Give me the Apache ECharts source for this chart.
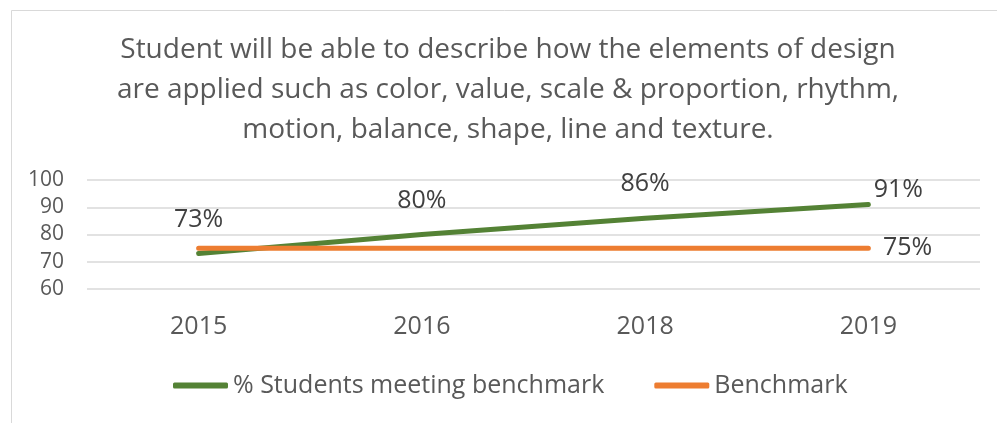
<!DOCTYPE html>
<html>
<head>
<meta charset="utf-8">
<script src="https://cdn.jsdelivr.net/npm/echarts@6/dist/echarts.min.js"></script>
<style>
  html, body { margin: 0; padding: 0; background: #fff; }
  #chart { width: 997px; height: 423px; }
</style>
</head>
<body>
<div id="chart"></div>
<script>
// data
var years = ['2015', '2016', '2018', '2019'];
var studentsMeeting = [73, 80, 86, 91];
var benchmark = [75, 75, 75, 75];
var titleLines = [
  'Student will be able to describe how the elements of design',
  'are applied such as color, value, scale & proportion, rhythm,',
  'motion, balance, shape, line and texture.'
];

var FONT = '"Open Sans", "Noto Sans", sans-serif';
var textColor = '#595959';

var chart = echarts.init(document.getElementById('chart'));

// last green label sits a little right of its point
var greenData = studentsMeeting.map(function (v, i) {
  if (i === studentsMeeting.length - 1) {
    return { value: v, label: { offset: [30, 19] } };
  }
  return v;
});

// only the last benchmark point is labelled
var orangeData = benchmark.map(function (v, i) {
  if (i === benchmark.length - 1) {
    return { value: v, label: { show: true, position: 'right', distance: 14 } };
  }
  return v;
});

var option = {
  animation: false,
  backgroundColor: '#fff',
  graphic: [
    {
      type: 'polyline',
      shape: { points: [[11.5, 430], [11.5, 10.5], [1010, 10.5]] },
      style: { stroke: '#d9d9d9', lineWidth: 1, fill: null },
      silent: true
    },
    {
      type: 'text',
      x: 508,
      y: 30,
      style: {
        text: titleLines.join('\n'),
        font: '28px ' + FONT,
        fill: textColor,
        textAlign: 'center',
        lineHeight: 40
      }
    }
  ],
  legend: {
    left: 168,
    top: 368,
    itemWidth: 55,
    itemHeight: 6,
    itemGap: 50,
    icon: 'roundRect',
    textStyle: { fontFamily: FONT, fontSize: 25, color: textColor },
    data: ['% Students meeting benchmark', 'Benchmark']
  },
  grid: { left: 87, right: 17, top: 180, bottom: 134 },
  xAxis: {
    type: 'category',
    data: years,
    axisLine: { show: false },
    axisTick: { show: false },
    axisLabel: { fontFamily: FONT, fontSize: 25, color: textColor, margin: 25 }
  },
  yAxis: {
    type: 'value',
    min: 60,
    max: 100,
    interval: 10,
    axisLine: { show: false },
    axisTick: { show: false },
    axisLabel: { fontFamily: FONT, fontSize: 21, color: textColor, margin: 23 },
    splitLine: { lineStyle: { color: '#d9d9d9', width: 1.5 } }
  },
  series: [
    {
      name: '% Students meeting benchmark',
      type: 'line',
      data: greenData,
      symbol: 'circle',
      symbolSize: 1,
      showSymbol: true,
      lineStyle: { color: '#548235', width: 5, cap: 'round' },
      itemStyle: { color: '#548235' },
      label: {
        show: true,
        position: 'top',
        distance: 21,
        formatter: '{c}%',
        fontFamily: FONT,
        fontSize: 25,
        color: '#404040'
      },
      z: 3
    },
    {
      name: 'Benchmark',
      type: 'line',
      data: orangeData,
      symbol: 'circle',
      symbolSize: 1,
      showSymbol: true,
      lineStyle: { color: '#ED7D31', width: 5, cap: 'round' },
      itemStyle: { color: '#ED7D31' },
      label: {
        show: false,
        formatter: '{c}%',
        fontFamily: FONT,
        fontSize: 25,
        color: '#404040'
      },
      z: 4
    }
  ]
};

chart.setOption(option);
</script>
</body>
</html>
